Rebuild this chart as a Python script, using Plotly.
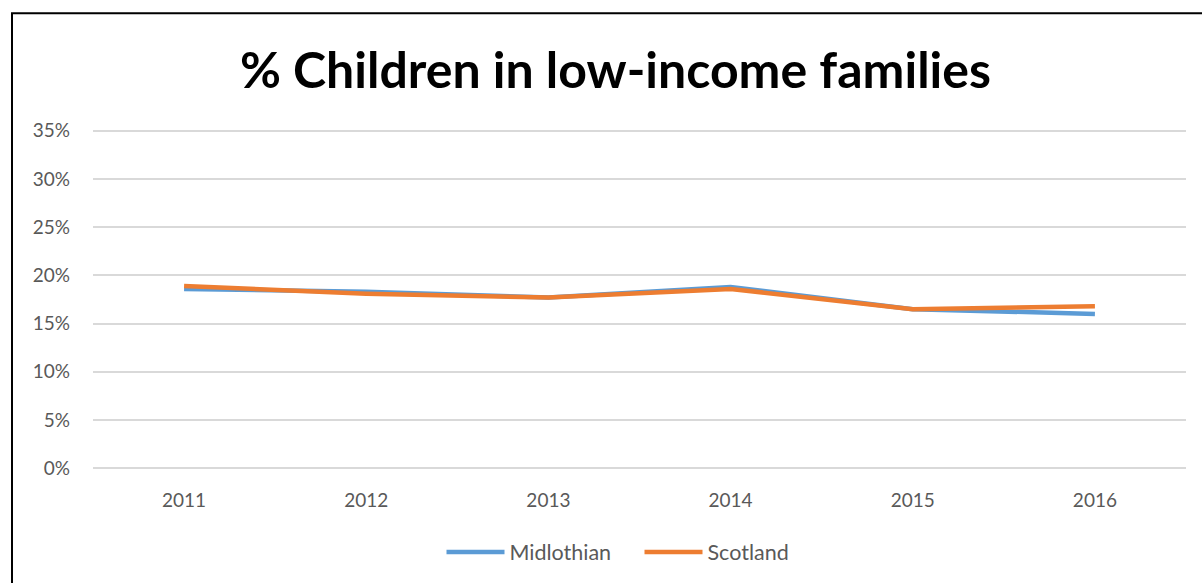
import plotly.graph_objects as go

years = ["2011", "2012", "2013", "2014", "2015", "2016"]
midlothian = [18.6, 18.3, 17.7, 18.8, 16.5, 16.0]
scotland = [18.9, 18.1, 17.7, 18.6, 16.5, 16.8]
y_ticks = [0, 5, 10, 15, 20, 25, 30, 35]
y_tick_labels = [f"{v}%" for v in y_ticks]

W, H = 1202, 583
L, R, T, B = 93, 16, 126, 109
ph = H - T - B
pw = W - L - R

fig = go.Figure()
fig.add_trace(go.Scatter(x=years, y=midlothian, name="Midlothian", mode="lines",
                         line=dict(color="#5B9BD5", width=4.5)))
fig.add_trace(go.Scatter(x=years, y=scotland, name="Scotland", mode="lines",
                         line=dict(color="#ED7D31", width=4.5)))

fig.update_layout(
    width=W, height=H,
    margin=dict(l=L, r=R, t=T, b=B, pad=0),
    paper_bgcolor="white", plot_bgcolor="white",
    font=dict(family="Lato", color="#595959", size=19),
    title=dict(text="<b>% Children in low-income families</b>",
               font=dict(family="Lato", size=50, color="black"),
               x=0.512, xanchor="center", y=1 - 70 / H, yanchor="middle"),
    xaxis=dict(type="category", range=[-0.5, 5.5], showgrid=False, showline=False,
               zeroline=False, ticks="", ticklabelstandoff=14,
               tickfont=dict(size=19, color="#595959")),
    yaxis=dict(range=[-0.5, 35.5], tickvals=y_ticks, ticktext=y_tick_labels,
               showgrid=True, gridcolor="#D9D9D9", gridwidth=1.5, zeroline=False,
               showline=False, ticks="", ticklabelstandoff=22,
               tickfont=dict(size=19, color="#595959")),
    legend=dict(orientation="h", x=0.5, xanchor="center",
                y=(H - B - 552) / ph, yanchor="middle",
                font=dict(size=21.5, color="#595959"),
                itemwidth=58, entrywidth=125),
    showlegend=True,
    shapes=[dict(type="rect", xref="paper", yref="paper",
                 x0=(12 - L) / pw, x1=1.2, y0=-1, y1=1 + (T - 13) / ph,
                 line=dict(color="black", width=2), fillcolor="rgba(0,0,0,0)",
                 layer="above")],
)

fig.write_html("out.html")
